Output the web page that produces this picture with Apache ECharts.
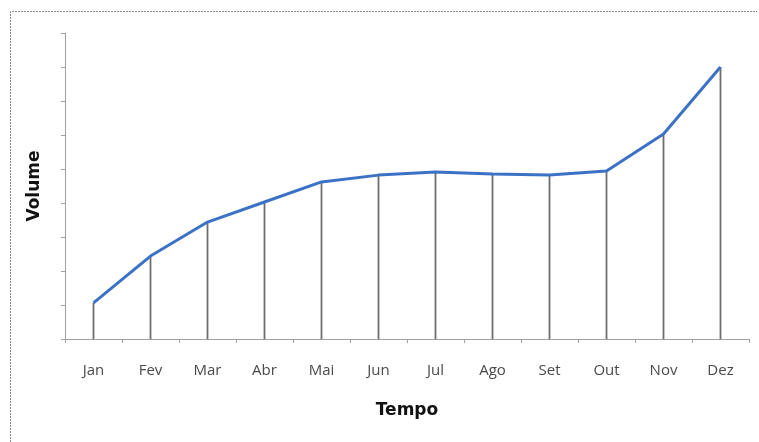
<!DOCTYPE html>
<html>
<head>
<meta charset="utf-8">
<script src="https://cdn.jsdelivr.net/npm/echarts@6/dist/echarts.min.js"></script>
<style>
  html, body { margin: 0; padding: 0; background: #fff; }
  #chart { width: 759px; height: 442px; }
</style>
</head>
<body>
<div id="chart"></div>
<script>
// dados do gráfico
var meses = ["Jan", "Fev", "Mar", "Abr", "Mai", "Jun", "Jul", "Ago", "Set", "Out", "Nov", "Dez"];
var volume = [1.06, 2.44, 3.44, 4.03, 4.62, 4.82, 4.91, 4.85, 4.82, 4.94, 6.03, 8.0];
var yMin = 0, yMax = 9, yStep = 1;

var chart = echarts.init(document.getElementById("chart"));

chart.setOption({
    animation: false,
    grid: { left: 65, right: 10, top: 33, bottom: 103 },
    graphic: [{
        type: "polyline",
        shape: { points: [[10.5, 442], [10.5, 11.5], [757, 11.5]] },
        style: { stroke: "#8a8a8a", lineWidth: 1, lineDash: [2, 1], fill: null },
        silent: true
    }],
    xAxis: {
        type: "category",
        data: meses,
        boundaryGap: true,
        name: "Tempo",
        nameLocation: "middle",
        nameGap: 63,
        nameTextStyle: { fontFamily: "DejaVu Sans", fontWeight: "bold", fontSize: 17, color: "#111" },
        axisLine: { lineStyle: { color: "#a0a0a0", width: 1 } },
        axisTick: { show: true, length: 4, lineStyle: { color: "#a0a0a0" } },
        axisLabel: { margin: 24, fontFamily: "Open Sans", fontSize: 15, color: "#4a4a4a" }
    },
    yAxis: {
        type: "value",
        min: yMin,
        max: yMax,
        interval: yStep,
        name: "Volume",
        nameLocation: "middle",
        nameGap: 22,
        nameTextStyle: { fontFamily: "DejaVu Sans", fontWeight: "bold", fontSize: 17, color: "#111" },
        axisLine: { show: true, lineStyle: { color: "#a0a0a0", width: 1 } },
        axisTick: { show: true, length: 4, lineStyle: { color: "#a0a0a0" } },
        axisLabel: { show: false },
        splitLine: { show: false }
    },
    series: [
        {
            // linhas verticais até o eixo
            type: "bar",
            data: volume,
            barWidth: 1.8,
            barGap: "-100%",
            itemStyle: { color: "#6e6e6e" },
            silent: true
        },
        {
            type: "line",
            data: volume,
            symbol: "none",
            lineStyle: { color: "#3b72c6", width: 3 },
            z: 3
        }
    ]
});
</script>
</body>
</html>
